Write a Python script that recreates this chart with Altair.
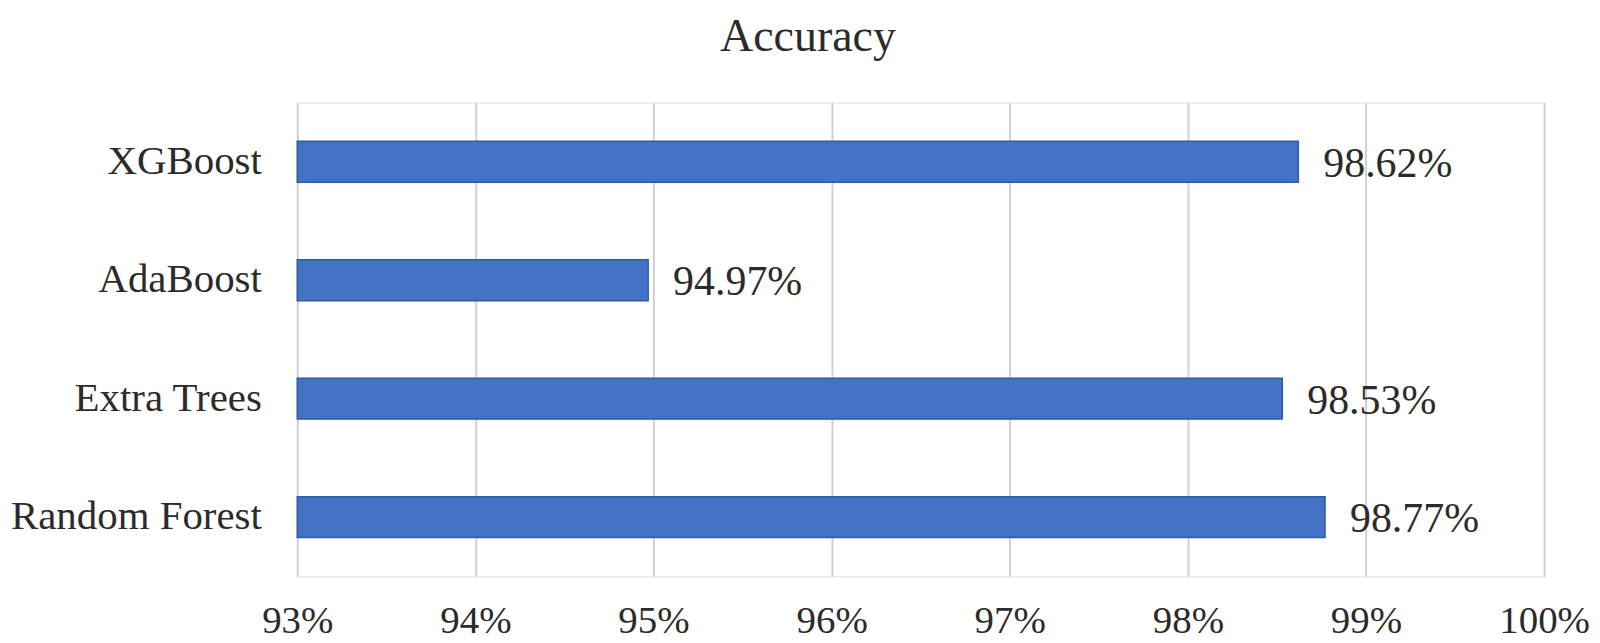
import altair as alt
import pandas as pd

models = ["XGBoost", "AdaBoost", "Extra Trees", "Random Forest"]
accuracy = [98.62, 94.97, 98.53, 98.77]
x_ticks = [93, 94, 95, 96, 97, 98, 99, 100]
title_text = "Accuracy"

df = pd.DataFrame({"model": models, "acc": accuracy})
df["base"] = x_ticks[0]
df["label"] = [f"{v:.2f}%" for v in accuracy]

FONT = "Liberation Serif"
TXT = "#2b2b2b"
GRID = "#d0d0d0"

x_scale = alt.Scale(domain=[x_ticks[0], x_ticks[-1]], zero=False, nice=False)
y_enc = alt.Y(
    "model:N",
    sort=models,
    scale=alt.Scale(paddingInner=0.655, paddingOuter=0.3275),
    axis=alt.Axis(
        title=None, ticks=False, domain=False, labelFont=FONT, labelFontSize=41,
        labelColor=TXT, labelPadding=36, grid=False, labelLimit=0,
    ),
)

bars = alt.Chart(df).mark_bar(color="#4472C4", stroke="#2f5aa8", strokeWidth=1.5).encode(
    x=alt.X(
        "acc:Q", scale=x_scale,
        axis=alt.Axis(
            title=None, values=x_ticks, labelExpr="datum.value + '%'", ticks=False,
            domain=False, grid=True, gridColor=GRID, gridWidth=2, labelFont=FONT,
            labelFontSize=39, labelColor=TXT, labelPadding=25, labelBaseline="top",
            labelFlush=False, labelOverlap=False,
        ),
    ),
    x2="base:Q",
    y=y_enc,
)

labels = alt.Chart(df).mark_text(
    align="left", baseline="middle", dx=25, dy=2, font=FONT, fontSize=42, color=TXT
).encode(
    x=alt.X("acc:Q", scale=x_scale),
    y=alt.Y("model:N", sort=models),
    text="label:N",
)

title = alt.Chart(pd.DataFrame({"t": [title_text]})).mark_text(
    align="center", baseline="alphabetic", font=FONT, fontSize=46, color=TXT
).encode(
    text="t:N",
    x=alt.value(512),
    y=alt.value(-52),
)

chart = (
    alt.layer(bars, labels, title)
    .properties(
        width=1250,
        height=475,
        autosize=alt.AutoSizeParams(type="none"),
        padding={"left": 290, "top": 94, "right": 48, "bottom": 66},
    )
    .configure_view(stroke=GRID, strokeWidth=2)
    .configure(background="white")
)

chart.save("out.html", embed_options={"renderer": "svg", "actions": False})
